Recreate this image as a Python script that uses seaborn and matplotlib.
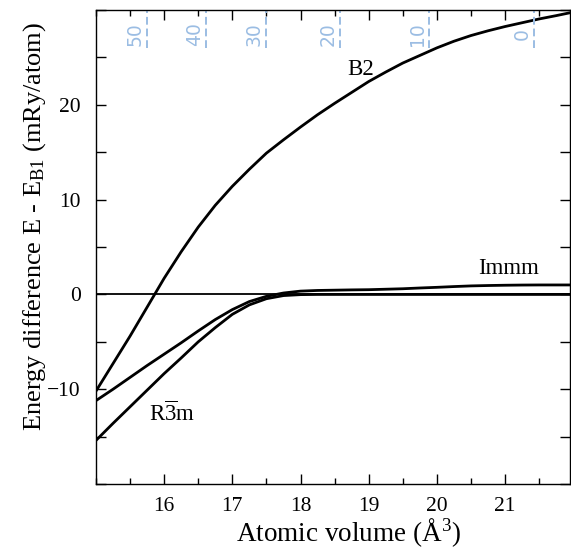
import numpy as np
import pandas as pd
import matplotlib
matplotlib.use("Agg")
import matplotlib.pyplot as plt
import seaborn as sns
from matplotlib.ticker import MultipleLocator

# ---- data ----
vol = [15.0, 15.25, 15.5, 15.75, 16.0, 16.25, 16.5, 16.75, 17.0, 17.25,
       17.5, 17.75, 18.0, 18.25, 18.5, 18.75, 19.0, 19.25, 19.5, 19.75,
       20.0, 20.25, 20.5, 20.75, 21.0, 21.25, 21.5, 21.75, 21.95]
e_b2 = [-10.2, -7.3, -4.4, -1.35, 1.7, 4.5, 7.1, 9.4, 11.4, 13.2,
        14.9, 16.3, 17.65, 18.95, 20.15, 21.3, 22.45, 23.45, 24.4, 25.2,
        26.0, 26.7, 27.3, 27.8, 28.25, 28.65, 29.05, 29.4, 29.7]
e_immm = [-11.2, -10.0, -8.75, -7.5, -6.3, -5.1, -3.85, -2.65, -1.6, -0.75,
          -0.2, 0.15, 0.35, 0.42, 0.45, 0.48, 0.5, 0.55, 0.6, 0.68,
          0.75, 0.83, 0.9, 0.94, 0.97, 0.99, 1.0, 1.0, 1.0]
e_r3m = [-15.4, -13.6, -11.85, -10.1, -8.35, -6.7, -5.0, -3.5, -2.1, -1.1,
         -0.45, -0.12, -0.02, 0.0, 0.0, 0.0, 0.0, 0.0, 0.0, 0.0,
         0.0, 0.0, 0.0, 0.0, 0.0, 0.0, 0.0, 0.0, 0.0]

pressure_labels = ["50", "40", "30", "20", "10", "0"]
pressure_vol = [15.75, 16.61, 17.49, 18.58, 19.88, 21.42]

x_ticks = [16, 17, 18, 19, 20, 21]
y_ticks = [-10, 0, 10, 20]

# ---- style ----
sns.set_style("ticks")
plt.rcParams['font.family'] = ['Liberation Serif', 'DejaVu Serif']
plt.rcParams['mathtext.fontset'] = 'custom'
plt.rcParams['mathtext.rm'] = 'Liberation Serif'
plt.rcParams['mathtext.it'] = 'Liberation Serif:italic'
for k in ['text.color', 'axes.labelcolor', 'xtick.color', 'ytick.color',
          'axes.edgecolor']:
    plt.rcParams[k] = 'black'

fig = plt.figure(figsize=(5.71, 5.52), dpi=100)
ax = fig.add_axes([0.168, 0.123, 0.830, 0.859])

df = pd.DataFrame({"v": vol, "B2": e_b2, "Immm": e_immm, "R3m": e_r3m})

ax.axhline(0, color="black", lw=1.3, zorder=1)
for col in ["B2", "Immm", "R3m"]:
    sns.lineplot(data=df, x="v", y=col, ax=ax, color="black", lw=2.0, sort=False)

# pressure markers (top)
blue = "#9bbde3"
ax.vlines(pressure_vol, 26.0, 30.0, colors=blue, linestyles=(0, (4, 2)), lw=1.4)
for v, lab in zip(pressure_vol, pressure_labels):
    ax.text(v - 0.03, 27.5, lab, rotation=90, ha="right", va="center",
            color=blue, fontsize=13.5, family=["DejaVu Sans"])

ax.text(18.88, 23.7, "B2", fontsize=16.5, ha="center", va="center")
ax.text(21.05, 2.7, "Immm", fontsize=16.5, ha="center", va="center")
ax.text(16.12, -12.6, r"R$\overline{\mathrm{3}}$m", fontsize=16.5, ha="center", va="center")

ax.set_xlim(15.0, 21.95)
ax.set_ylim(-20, 30)
ax.set_xticks(x_ticks)
ax.xaxis.set_minor_locator(MultipleLocator(0.5))
ax.set_yticks(y_ticks)
ax.yaxis.set_minor_locator(MultipleLocator(5))
ax.tick_params(which="both", direction="in", top=True, right=True,
               labelsize=15.5, color="black", labelcolor="black", width=1.0)
ax.tick_params(axis="x", which="major", length=7, pad=9)
ax.tick_params(axis="x", which="minor", length=4)
ax.tick_params(axis="y", which="both", length=7, pad=11)

for s in ax.spines.values():
    s.set_visible(True)
    s.set_color("black")
    s.set_linewidth(1.0)

ax.set_xlabel("Atomic volume (Å$^{\\mathrm{3}}$)", fontsize=19.5)
ax.xaxis.set_label_coords(0.532, -0.068)
ax.set_ylabel("Energy difference E - E$_{\\mathrm{B1}}$ (mRy/atom)", fontsize=19)
ax.yaxis.set_label_coords(-0.101, 0.544)

fig.savefig("out.png", dpi=100)
